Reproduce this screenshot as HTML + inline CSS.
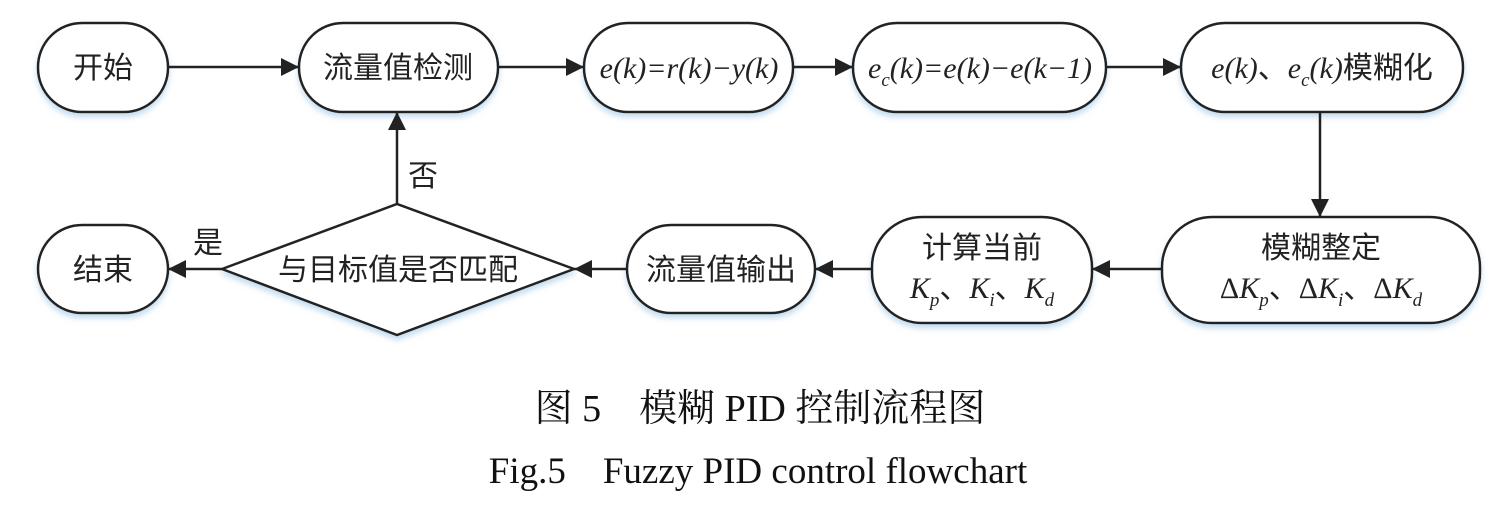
<!DOCTYPE html>
<html><head><meta charset="utf-8"><style>
html,body{margin:0;padding:0;background:#fff;}
svg{display:block}
.cn{font-family:"Liberation Serif","Noto Sans CJK SC",sans-serif;font-size:30px;fill:#222;font-style:normal}
.m{font-family:"Liberation Serif","Noto Serif CJK SC",serif;font-style:italic;font-size:30px;fill:#222}
.r{font-style:normal}
.b{fill:#fff;stroke:#222;stroke-width:2.5;filter:url(#sh)}
.l{stroke:#222;stroke-width:2.5;fill:none}
</style></head><body>
<svg width="1500" height="510" viewBox="0 0 1500 510" xmlns="http://www.w3.org/2000/svg">
<defs>
<filter id="sh" x="-10%" y="-10%" width="120%" height="140%"><feDropShadow dx="0" dy="4" stdDeviation="3" flood-color="#9cc4e4" flood-opacity="0.6"/></filter>
<marker id="a" markerWidth="20" markerHeight="20" refX="18" refY="9" orient="auto" markerUnits="userSpaceOnUse"><path d="M0,0 L18,9 L0,18 Z" fill="#222"/></marker>
</defs>
<!-- top row -->
<rect class="b" x="38" y="23" width="130" height="89" rx="44"/>
<text class="cn" x="103" y="78" text-anchor="middle">开始</text>
<rect class="b" x="299" y="23" width="199" height="89" rx="44"/>
<text class="cn" x="398" y="78" text-anchor="middle">流量值检测</text>
<rect class="b" x="584" y="23" width="209" height="89" rx="44"/>
<text class="m" x="689" y="78" text-anchor="middle">e(k)=r(k)−y(k)</text>
<rect class="b" x="853" y="23" width="253" height="89" rx="44"/>
<text class="m" x="980" y="78" text-anchor="middle">e<tspan font-size="19" dy="8">c</tspan><tspan dy="-8">(k)=e(k)−e(k−1)</tspan></text>
<rect class="b" x="1181" y="23" width="282" height="89" rx="44"/>
<text class="m" x="1322" y="78" text-anchor="middle">e(k)<tspan class="cn">、</tspan>e<tspan font-size="19" dy="8">c</tspan><tspan dy="-8">(k)</tspan><tspan class="cn">模糊化</tspan></text>
<!-- bottom row -->
<rect class="b" x="38" y="225" width="130" height="88" rx="44"/>
<text class="cn" x="103" y="280" text-anchor="middle">结束</text>
<polygon class="b" points="222,269 397,204 574,269 397,335"/>
<text class="cn" x="398" y="280" text-anchor="middle">与目标值是否匹配</text>
<rect class="b" x="627" y="225" width="188" height="88" rx="44"/>
<text class="cn" x="721" y="280" text-anchor="middle">流量值输出</text>
<rect class="b" x="872" y="217" width="220" height="106" rx="50"/>
<text class="cn" x="982" y="258" text-anchor="middle">计算当前</text>
<text class="m" x="982" y="298" text-anchor="middle">K<tspan font-size="19" dy="8">p</tspan><tspan class="cn" dy="-8">、</tspan>K<tspan font-size="19" dy="8">i</tspan><tspan class="cn" dy="-8">、</tspan>K<tspan font-size="19" dy="8">d</tspan></text>
<rect class="b" x="1162" y="217" width="318" height="106" rx="50"/>
<text class="cn" x="1321" y="258" text-anchor="middle">模糊整定</text>
<text class="m" x="1321" y="298" text-anchor="middle"><tspan class="r">Δ</tspan>K<tspan font-size="19" dy="8">p</tspan><tspan class="cn" dy="-8">、</tspan><tspan class="r">Δ</tspan>K<tspan font-size="19" dy="8">i</tspan><tspan class="cn" dy="-8">、</tspan><tspan class="r">Δ</tspan>K<tspan font-size="19" dy="8">d</tspan></text>
<!-- connectors -->
<line class="l" x1="168" y1="67" x2="299" y2="67" marker-end="url(#a)"/>
<line class="l" x1="498" y1="67" x2="584" y2="67" marker-end="url(#a)"/>
<line class="l" x1="793" y1="67" x2="853" y2="67" marker-end="url(#a)"/>
<line class="l" x1="1106" y1="67" x2="1181" y2="67" marker-end="url(#a)"/>
<line class="l" x1="1320" y1="112" x2="1320" y2="217" marker-end="url(#a)"/>
<line class="l" x1="1162" y1="269" x2="1092" y2="269" marker-end="url(#a)"/>
<line class="l" x1="872" y1="269" x2="815" y2="269" marker-end="url(#a)"/>
<line class="l" x1="627" y1="269" x2="574" y2="269" marker-end="url(#a)"/>
<line class="l" x1="222" y1="269" x2="168" y2="269" marker-end="url(#a)"/>
<line class="l" x1="397" y1="204" x2="397" y2="112" marker-end="url(#a)"/>
<text class="cn" x="423" y="186" text-anchor="middle" font-size="28">否</text>
<text class="cn" x="208" y="253" text-anchor="middle" font-size="27">是</text>
<!-- captions -->
<text x="760" y="421" text-anchor="middle" font-family="Liberation Serif,'Noto Serif CJK SC',serif" font-size="38" fill="#111">图 5　模糊 PID 控制流程图</text>
<text x="758" y="483" text-anchor="middle" font-family="Liberation Serif,serif" font-size="37" fill="#111">Fig.5　Fuzzy PID control flowchart</text>
</svg>
</body></html>
